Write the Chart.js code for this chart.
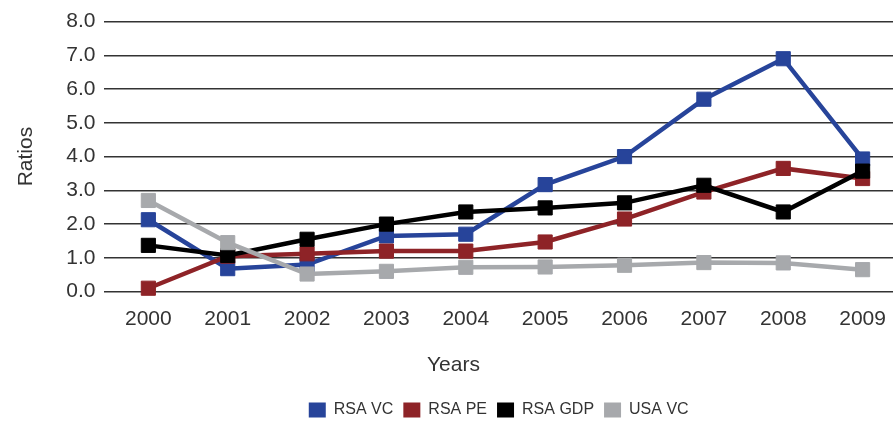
<!DOCTYPE html>
<html>
<head>
<meta charset="utf-8">
<script src="https://cdn.jsdelivr.net/npm/chart.js@4.4.1/dist/chart.umd.min.js"></script>
<style>
  html, body { margin: 0; padding: 0; background: #ffffff; }
  #wrap { width: 893px; height: 423px; position: relative; }
</style>
</head>
<body>
<div id="wrap"><canvas id="ratioChart"></canvas></div>
<script>
// Chart data
const years = [2000, 2001, 2002, 2003, 2004, 2005, 2006, 2007, 2008, 2009];
const rsaVC = [2.13, 0.68, 0.8, 1.65, 1.7, 3.17, 4.0, 5.7, 6.9, 3.93];
const rsaPE = [0.1, 1.05, 1.12, 1.2, 1.2, 1.47, 2.15, 2.95, 3.65, 3.35];
const rsaGDP = [1.37, 1.07, 1.55, 2.0, 2.36, 2.48, 2.63, 3.15, 2.36, 3.57];
const usaVC = [2.7, 1.45, 0.52, 0.6, 0.72, 0.73, 0.78, 0.86, 0.85, 0.65];
const yTicks = [0, 1, 2, 3, 4, 5, 6, 7, 8];

const FONT = 'Liberation Sans, Arial, sans-serif';
const TEXT = '#333333';

function toPoints(values) {
  return values.map((v, i) => ({ x: years[i], y: v }));
}

function makeSeries(label, values, color, order) {
  return {
    label: label,
    data: toPoints(values),
    borderColor: color,
    backgroundColor: color,
    borderWidth: 4.5,
    pointStyle: 'rect',
    pointRadius: 10,
    pointBorderWidth: 1,
    pointBorderColor: color,
    pointBackgroundColor: color,
    tension: 0,
    clip: 12,
    order: order
  };
}

const ctx = document.getElementById('ratioChart');
new Chart(ctx, {
  type: 'line',
  data: {
    datasets: [
      makeSeries('RSA VC', rsaVC, '#27449a', 4),
      makeSeries('RSA PE', rsaPE, '#8e2327', 3),
      makeSeries('RSA GDP', rsaGDP, '#000000', 2),
      makeSeries('USA VC', usaVC, '#a7a9ac', 1)
    ]
  },
  options: {
    responsive: true,
    maintainAspectRatio: false,
    devicePixelRatio: 1,
    animation: false,
    layout: { autoPadding: false, padding: { top: 7, right: 0, bottom: -5, left: 14 } },
    plugins: {
      tooltip: { enabled: false },
      // "Years" as a full-width title sitting between the axis and the legend
      title: {
        display: true,
        text: 'Years',
        position: 'bottom',
        weight: 500,
        font: { family: FONT, size: 21, weight: 'normal' },
        color: TEXT,
        padding: { top: 18, bottom: 14 }
      },
      legend: {
        position: 'bottom',
        fullSize: false,
        labels: {
          font: { family: FONT, size: 16 },
          color: TEXT,
          boxWidth: 17,
          boxHeight: 15,
          padding: 10,
          generateLabels: (chart) => chart.data.datasets.map((ds, i) => ({
            text: ds.label,
            fillStyle: ds.backgroundColor,
            strokeStyle: ds.backgroundColor,
            lineWidth: 0,
            datasetIndex: i,
            fontColor: TEXT
          }))
        }
      }
    },
    scales: {
      x: {
        type: 'linear',
        min: 1999.446,
        max: 2009.383,
        // ticks hidden but their length gives the gap under the plot
        grid: { display: false, drawTicks: true, tickLength: 12 },
        border: { display: false },
        afterBuildTicks: (scale) => {
          scale.ticks = years.map((y) => ({ value: y }));
        },
        ticks: {
          font: { family: FONT, size: 21 },
          color: TEXT,
          padding: 3,
          callback: (v) => String(v)
        }
      },
      y: {
        min: 0,
        max: 8,
        afterBuildTicks: (scale) => {
          scale.ticks = yTicks.map((v) => ({ value: v }));
        },
        grid: { color: '#333333', lineWidth: 1.5, drawTicks: false },
        border: { display: false },
        ticks: {
          font: { family: FONT, size: 21 },
          color: TEXT,
          padding: 9,
          callback: (v) => Number(v).toFixed(1)
        },
        title: {
          display: true,
          text: 'Ratios',
          font: { family: FONT, size: 21 },
          color: TEXT,
          padding: { top: 0, bottom: 18 }
        }
      }
    }
  }
});
</script>
</body>
</html>
